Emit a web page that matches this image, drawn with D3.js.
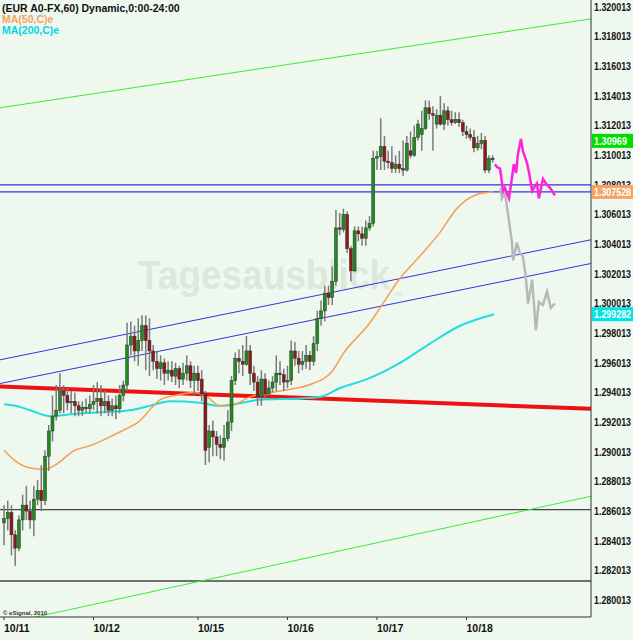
<!DOCTYPE html>
<meta charset="utf-8">
<html>
<head>
<script src="https://d3js.org/d3.v7.min.js"></script>
<style>
body{margin:0;background:#fff;}
svg text{font-family:"Liberation Sans",Arial,sans-serif;font-weight:bold;}
</style>
</head>
<body>
<script>
// prices stored as pips above 1.2800, hourly bars (hour 0 = 10/11 open)
var base = 1.28;
// [open, close, high, low]
var candles = [
[52,55,64,37],[55,59,67,47],[59,44,64,30],[44,35,47,23],[35,54,57,33],[54,64,71,47],[64,60,77,54],[60,54,67,48],
[54,68,77,43],[68,74,81,64],[74,67,91,60],[67,97,101,64],[97,114,118,87],[114,124,138,107],[124,128,145,121],[128,141,153,126],
[141,138,145,126],[138,133,143,128],[133,134,141,126],[134,131,140,124],[131,128,134,124],[128,130,134,124],[130,129,136,126],[129,132,138,126],
[132,134,145,128],[134,136,147,126],[136,131,145,124],[131,134,141,126],[134,128,138,124],[128,131,136,124],[131,129,138,122],[129,138,145,126],
[138,145,148,134],[145,172,187,141],[172,178,188,165],[178,168,185,161],[168,175,190,158],[175,185,192,168],[185,175,192,155],[175,168,190,151],
[168,161,172,155],[161,156,168,149],[156,160,165,148],[160,153,163,145],[153,155,161,148],[155,151,161,147],[151,156,160,145],[156,149,158,143],
[149,153,160,145],[153,158,165,148],[158,148,161,143],[148,153,158,138],[153,148,158,141],[149,139,155,134],[139,101,141,91],[103,114,118,93],
[114,110,121,97],[110,105,114,97],[105,103,111,95],[103,109,118,94],[109,120,128,107],[120,148,151,114],[148,163,167,145],[163,161,169,153],
[161,159,172,151],[159,168,178,158],[168,153,172,145],[153,147,158,141],[147,137,151,131],[137,149,155,131],[149,139,153,136],[139,143,148,138],
[143,147,151,140],[147,153,165,141],[153,152,161,145],[152,147,156,141],[147,148,158,143],[148,168,175,145],[168,163,174,158],[163,159,168,153],
[159,161,168,155],[161,165,172,156],[165,161,168,155],[161,173,178,158],[173,190,195,168],[190,195,202,185],[195,207,212,188],[207,204,212,199],
[204,215,225,199],[215,251,263,212],[251,250,261,246],[250,260,264,248],[260,237,262,234],[237,222,239,215],[222,249,252,221],[249,247,252,242],
[247,244,252,239],[244,251,256,239],[251,254,259,249],[254,298,303,252],[298,299,303,290],[299,306,325,290],[306,296,313,290],[296,295,303,291],
[295,291,306,288],[291,294,300,288],[294,291,303,288],[291,290,310,286],[290,308,313,289],[303,300,316,298],[300,312,320,299],[312,321,324,310],
[314,318,330,303],[318,332,337,317],[332,328,337,324],[328,327,333,303],[321,327,331,318],[327,321,340,320],[321,330,335,317],[330,324,333,320],
[324,322,330,320],[322,324,329,321],[324,322,329,319],[322,316,324,313],[316,314,320,311],[314,312,318,310],[312,305,317,302],[305,308,313,303],
[308,310,315,304],[310,290,313,288],[290,298,300,288],[298,297,300,295]
];
var ma50 = [[0,101],[2.9,94],[7,89],[11,88],[13.7,91],[19,101],[23,104],[28.4,110],[32.4,115],[36.5,121],[39,128],[41.8,135],[45.8,138],[51.2,140],[53.9,138],[57.9,131],[60.6,131],[66,137],[74,141],[82.8,146],[88.2,155],[90.9,166],[98.1,187],[100.8,197],[106.2,217],[111.5,232],[116.9,248],[121.4,264],[126.3,273],[131.1,275.3]];
var ma200 = [[0,132],[3,131],[7,128],[12.3,124],[20.4,126],[28.4,127],[33.8,128],[39.1,131],[44.5,134],[52.5,133],[57.9,131],[68.6,135],[79.4,136],[84.7,137],[90.1,143],[97.3,149],[106.2,160],[114.2,173],[122.3,185],[131.4,192.8]];
var projUp = [[131.6,294],[132.2,292],[133,291],[133.8,276],[134.3,278],[134.9,274],[135.4,271],[136.2,285],[136.7,294],[137.3,288],[137.8,301],[138.6,311],[139.1,303],[140.2,295],[140.8,288],[141.6,276],[142.1,278],[142.9,281],[143.4,271],[144,278],[144.5,284],[145.6,280],[146.4,278],[147.7,273]];
var projDown = [[133.2,278],[133.5,271],[134.3,275],[135.1,261],[136.2,241],[136.5,229],[137.5,241],[138.3,234],[139.1,232],[139.9,218],[140.5,200],[141.6,216],[142.6,182],[143.4,201],[144.5,199],[145.6,208],[146.6,197],[147.7,200]];
var trendLines = [
  {pts:[[-1.1,332],[157.4,392]], color:"#33ee33", w:1},
  {pts:[[7.5,-12],[157.4,70]], color:"#33ee33", w:1},
  {pts:[[-1.1,162],[157.4,243]], color:"#3333dd", w:1},
  {pts:[[-1.1,146],[157.4,227]], color:"#3333dd", w:1},
  {pts:[[-1.1,144],[157.4,129]], color:"#ee1111", w:4}
];
var hLines = [{p:280,color:"#3333dd"},{p:275.3,color:"#3333dd"},{p:61,color:"#444"},{p:12.8,color:"#444"}];
var dateLabels = ["10/11","10/12","10/15","10/16","10/17","10/18"];
var dateHours = [0,24,52,76,100,124];
var priceTicks = d3.range(0,21).map(function(i){return 1.280013+i*0.002;});
var lastLabels = [{v:309.69,t:"1.30969",fill:"#00dd00"},{v:275.28,t:"1.307528",fill:"#f4a460"},{v:192.82,t:"1.299282",fill:"#00e5e5"}];

var W=633,H=640,plotR=591,plotB=617;
var svg=d3.select("body").append("svg").attr("width",W).attr("height",H);
svg.append("rect").attr("width",W).attr("height",H).attr("fill","#eff8ef");

var x=d3.scaleLinear().domain([0,131]).range([4,492.6]);
var y=d3.scaleLinear().domain([base,1.32]).range([600,7]);
var py=function(p){return y(base+p/10000);};

svg.append("clipPath").attr("id","c").append("rect").attr("width",plotR).attr("height",plotB);
var g=svg.append("g").attr("clip-path","url(#c)");

// watermark
g.append("text").attr("x",138).attr("y",289).attr("font-size",40).attr("fill","#dbe8db")
  .attr("textLength",252).attr("lengthAdjust","spacingAndGlyphs").text("Tagesausblick");
g.append("text").attr("x",392).attr("y",296).attr("font-size",8).attr("fill","#dbe8db").text(".de");

hLines.forEach(function(h){
  g.append("line").attr("x1",0).attr("x2",plotR).attr("y1",py(h.p)).attr("y2",py(h.p)).attr("stroke",h.color).attr("stroke-width",1.3);
});
var line=d3.line().x(function(d){return x(d[0]);}).y(function(d){return py(d[1]);});
trendLines.forEach(function(t){
  g.append("path").attr("d",line(t.pts)).attr("stroke",t.color).attr("stroke-width",t.w).attr("fill","none");
});
g.append("path").attr("d",line.curve(d3.curveMonotoneX)(ma200)).attr("stroke","#22dddd").attr("stroke-width",2).attr("fill","none");
g.append("path").attr("d",line(ma50)).attr("stroke","#f4a050").attr("stroke-width",1.5).attr("fill","none");
line.curve(d3.curveLinear);
g.append("path").attr("d",line(projDown)).attr("stroke","#b8b8b8").attr("stroke-width",2.5).attr("fill","none");
g.append("path").attr("d",line(projUp)).attr("stroke","#ff22dd").attr("stroke-width",2.5).attr("fill","none");

var cg=g.selectAll("g.cd").data(candles).enter().append("g");
cg.append("line").attr("x1",function(d,i){return x(i);}).attr("x2",function(d,i){return x(i);})
  .attr("y1",function(d){return py(d[2]);}).attr("y2",function(d){return py(d[3]);})
  .attr("stroke","#7a7a7a").attr("stroke-width",1.5);
cg.append("rect").attr("x",function(d,i){return x(i)-1.5;}).attr("width",3)
  .attr("y",function(d){return py(Math.max(d[0],d[1]));})
  .attr("height",function(d){return Math.max(1,Math.abs(py(d[0])-py(d[1])));})
  .attr("fill",function(d){return d[1]>=d[0]?"#1e8c1e":"#8c1a1a";})
  .attr("stroke","#333").attr("stroke-width",0.5);

// axes frame
svg.append("line").attr("x1",plotR).attr("x2",plotR).attr("y1",0).attr("y2",plotB).attr("stroke","#333");
svg.append("line").attr("x1",0).attr("x2",plotR).attr("y1",plotB).attr("y2",plotB).attr("stroke","#333");

svg.selectAll("text.pt").data(priceTicks).enter().append("text")
  .attr("x",594).attr("y",function(d){return y(d)+4;}).attr("font-size",10).attr("fill","#111")
  .attr("textLength",37).attr("lengthAdjust","spacingAndGlyphs")
  .text(function(d){return d.toFixed(6);});

lastLabels.forEach(function(l){
  var yy=py(l.v);
  svg.append("rect").attr("x",592).attr("y",yy-7).attr("width",41).attr("height",14).attr("fill",l.fill);
  svg.append("text").attr("x",594).attr("y",yy+4).attr("font-size",10.5).attr("fill","#fff")
    .attr("textLength",l.t.length>7?37:33).attr("lengthAdjust","spacingAndGlyphs").text(l.t);
});

dateHours.forEach(function(h,i){
  svg.append("line").attr("x1",x(h)).attr("x2",x(h)).attr("y1",plotB).attr("y2",plotB+3).attr("stroke","#333");
  svg.append("text").attr("x",x(h)).attr("y",plotB+15).attr("font-size",10.5).attr("fill","#111").text(dateLabels[i]);
});

svg.append("text").attr("x",2).attr("y",12).attr("font-size",10.5).attr("fill","#111").text("(EUR A0-FX,60) Dynamic,0:00-24:00");
svg.append("text").attr("x",2).attr("y",23).attr("font-size",10.5).attr("fill","#f4a460").text("MA(50,C)e");
svg.append("text").attr("x",2).attr("y",34).attr("font-size",10.5).attr("fill","#00d5e5").text("MA(200,C)e");
svg.append("text").attr("x",3).attr("y",615).attr("font-size",6).attr("fill","#333").text("© eSignal, 2010");
</script>
</body>
</html>
